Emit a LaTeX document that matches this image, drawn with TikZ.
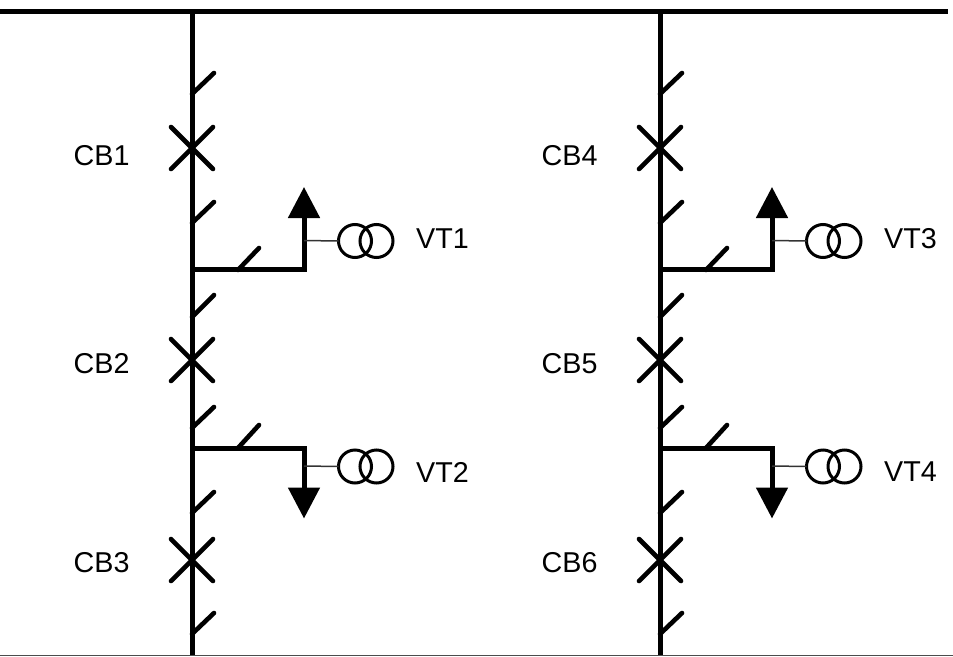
\documentclass[tikz,border=0pt]{standalone}
\usepackage{fontspec}
\setmainfont{Liberation Sans}
\usetikzlibrary{arrows.meta}
\tikzset{
  x=1pt,y=-1pt,
  bus/.style={line width=5pt,black},
  tick/.style={line width=4.6pt,black,line cap=round},
  cross/.style={line width=4.6pt,black,line cap=round},
  thin link/.style={line width=1.5pt,black!80},
  coil/.style={circle,draw=black,line width=3pt,minimum size=33pt,inner sep=0pt,outer sep=0pt,fill=none},
  lbl/.style={anchor=west,inner sep=0pt,font=\fontsize{28.7}{29}\selectfont,text=black},
  vt arrow/.style={-{Triangle[length=31pt,width=31pt,fill=black]},line width=5pt,black,line join=miter},
}
\begin{document}
\begin{tikzpicture}
\useasboundingbox (0,0) rectangle (953,656);
\fill[white] (0,0) rectangle (953,656);
\coordinate (busTL) at (0,11);
\coordinate (busTR) at (948,11);
\coordinate (busBL) at (0,655.5);
\coordinate (busBR) at (953,655.5);
\draw[line width=1pt,black!70] (busBL) -- (busBR);
\foreach \c/\dx/\cba/\cbb/\cbc/\vta/\vtb in {L/0/CB1/CB2/CB3/VT1/VT2, R/468/CB4/CB5/CB6/VT3/VT4}{
  \begin{scope}[xshift=\dx pt]
    \coordinate (top\c) at (192,11);
    \coordinate (bot\c) at (192,655);
    \draw[bus] (top\c) -- (bot\c);
    \foreach \ya/\yb in {94/73, 223/202, 317/295, 428/407, 513/492, 634/613}
      \draw[tick] (192,\ya) -- (214,\yb);
    \foreach \yc in {148,360,560}{
      \draw[cross] (171,\yc-21) -- (213,\yc+21);
      \draw[cross] (171,\yc+21) -- (213,\yc-21);
    }
    \coordinate (upS\c) at (192,269.5);
    \coordinate (upC\c) at (304,269.5);
    \coordinate (upT\c) at (304,187);
    \draw[vt arrow] (upS\c) -- (upC\c) -- (upT\c);
    \draw[tick] (238,270) -- (259,248);
    \coordinate (upJ\c) at (304,240.5);
    \node[coil] (c1u\c) at (355,241) {};
    \node[coil] (c2u\c) at (376.5,241) {};
    \draw[thin link] (upJ\c) -- (c1u\c.west);
    \coordinate (loS\c) at (192,448);
    \coordinate (loC\c) at (304,448);
    \coordinate (loT\c) at (304,518.5);
    \draw[vt arrow] (loS\c) -- (loC\c) -- (loT\c);
    \draw[tick] (238,448) -- (259,425);
    \coordinate (loJ\c) at (304,466);
    \node[coil] (c1l\c) at (355,466.5) {};
    \node[coil] (c2l\c) at (376.5,466.5) {};
    \draw[thin link] (loJ\c) -- (c1l\c.west);
    \node[lbl] (n1\c) at (73.5,156) {\cba};
    \node[lbl] (n2\c) at (73.5,364) {\cbb};
    \node[lbl] (n3\c) at (73.5,563) {\cbc};
    \node[lbl] (n4\c) at (416,239) {\vta};
    \node[lbl] (n5\c) at (416,472) {\vtb};
  \end{scope}
}
\draw[bus] (busTL) -- (busTR);
\end{tikzpicture}
\end{document}
